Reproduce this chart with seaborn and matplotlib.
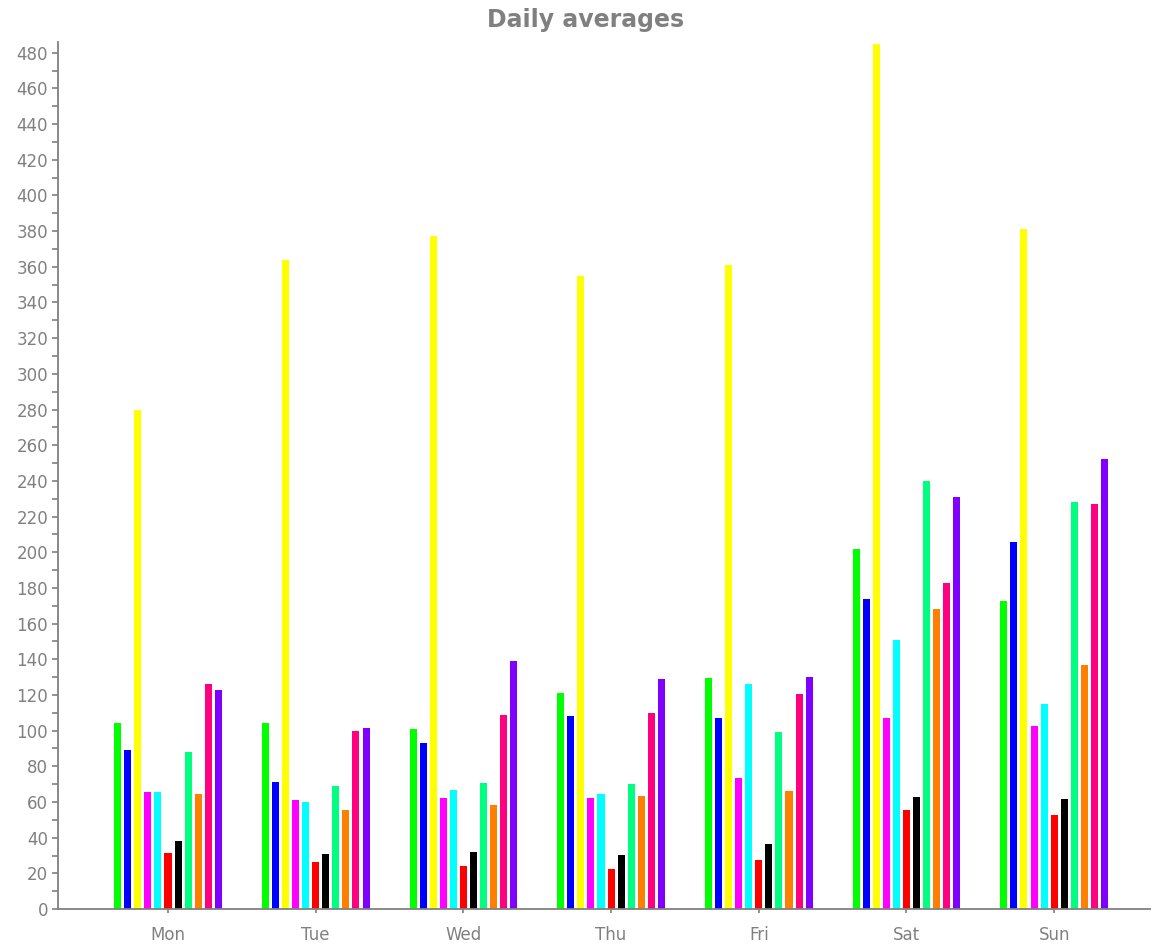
import matplotlib
matplotlib.use('Agg')
import matplotlib.pyplot as plt
from matplotlib.ticker import MultipleLocator
import seaborn as sns
import pandas as pd

# Values
days = ['Mon', 'Tue', 'Wed', 'Thu', 'Fri', 'Sat', 'Sun']
series_names = ['s01', 's02', 's03', 's04', 's05', 's06', 's07', 's08', 's09', 's10', 's11']
series_colors = ['#00ff00', '#0000ff', '#ffff00', '#ff00ff', '#00ffff', '#ff0000',
                 '#000000', '#00ff80', '#ff8000', '#ff0080', '#8000ff']

s01 = [104.2, 104.4, 100.8, 121.0, 129.7, 202.0, 172.5]
s02 = [89.0, 71.4, 93.0, 108.4, 107.3, 174.0, 205.6]
s03 = [280.0, 363.6, 377.0, 354.6, 361.0, 485.0, 381.0]
s04 = [65.5, 61.0, 62.2, 62.2, 73.6, 107.0, 102.5]
s05 = [65.5, 60.0, 66.9, 64.5, 126.0, 151.0, 115.0]
s06 = [31.4, 26.4, 24.0, 22.6, 27.3, 55.5, 52.7]
s07 = [38.0, 30.8, 31.9, 30.3, 36.4, 63.0, 61.6]
s08 = [88.0, 69.0, 70.8, 70.0, 99.4, 240.0, 228.0]
s09 = [64.4, 55.5, 58.5, 63.4, 66.1, 168.0, 137.0]
s10 = [126.0, 99.8, 108.8, 109.9, 120.7, 183.0, 227.0]
s11 = [123.0, 101.5, 139.0, 129.0, 130.2, 231.0, 252.0]

all_series = [s01, s02, s03, s04, s05, s06, s07, s08, s09, s10, s11]

# Build a long-form table for seaborn
rows = []
for name, vals in zip(series_names, all_series):
    for d, v in zip(days, vals):
        rows.append({'day': d, 'series': name, 'value': v})
df = pd.DataFrame(rows)

sns.set_style('white')
grey = '#808080'

fig = plt.figure(figsize=(11.57, 9.47), dpi=100)
ax = fig.add_axes([0.0501, 0.0401, 0.944, 0.9155])

sns.barplot(data=df, x='day', y='value', hue='series', order=days, hue_order=series_names,
            palette=series_colors, width=0.75, gap=0.3, saturation=1, linewidth=0,
            legend=False, errorbar=None, ax=ax)

ax.set_ylim(0, 486)
ax.set_xlim(-0.745, 6.65)
ax.yaxis.set_major_locator(MultipleLocator(20))
ax.yaxis.set_minor_locator(MultipleLocator(10))
ax.set_xlabel('')
ax.set_ylabel('')

for side in ['top', 'right']:
    ax.spines[side].set_visible(False)
for side in ['left', 'bottom']:
    ax.spines[side].set_color(grey)
    ax.spines[side].set_linewidth(1.3)

ax.tick_params(axis='y', which='major', direction='out', length=4, width=1.2,
               color=grey, labelcolor=grey, labelsize=12, left=True, pad=3)
ax.tick_params(axis='y', which='minor', direction='out', length=4, width=1.2,
               color=grey, left=True)
ax.tick_params(axis='x', which='major', direction='out', length=3, width=1.2,
               color=grey, labelcolor=grey, labelsize=12, bottom=True, pad=9)

# Title is centred on the whole figure
fig.suptitle('Daily averages', color=grey, fontsize=17, fontweight='bold', x=0.506, y=0.992)

fig.savefig('out.png', dpi=100, facecolor='white')
